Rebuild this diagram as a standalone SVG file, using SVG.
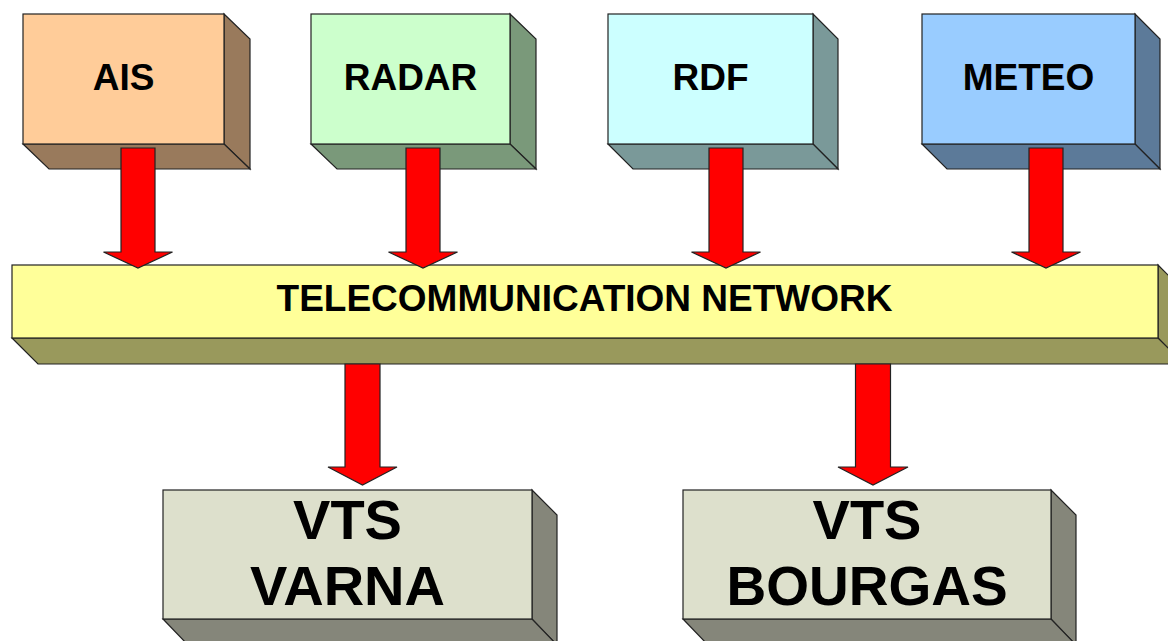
<svg xmlns="http://www.w3.org/2000/svg" width="1168" height="641" viewBox="0 0 1168 641">
  <style>
    .edge { stroke: #222; stroke-width: 1.2; stroke-linejoin: miter; }
    .lbl { font-family: "Liberation Sans", Arial, sans-serif; font-weight: bold; fill: #000; text-anchor: middle; }
    .arrow { fill: #FF0000; stroke: #222; stroke-width: 1.2; stroke-linejoin: miter; }
  </style>
  <rect width="1168" height="641" fill="#FFFFFF"/>

  <g id="node-ais">
    <polygon class="edge" fill="#997A5C" points="224,14 250,39 250,169 224,144"/>
    <polygon class="edge" fill="#997A5C" points="23,144 224,144 250,169 49,169"/>
    <rect class="edge" fill="#FFCC99" x="23" y="14" width="201" height="130"/>
    <text class="lbl" x="123.5" y="89.5" font-size="37">AIS</text>
  </g>

  <g id="node-radar">
    <polygon class="edge" fill="#7A997A" points="510,14 536,39 536,169 510,144"/>
    <polygon class="edge" fill="#7A997A" points="311,144 510,144 536,169 337,169"/>
    <rect class="edge" fill="#CCFFCC" x="311" y="14" width="199" height="130"/>
    <text class="lbl" x="410.5" y="89.5" font-size="37">RADAR</text>
  </g>

  <g id="node-rdf">
    <polygon class="edge" fill="#7A9999" points="813,14 838,39 838,169 813,144"/>
    <polygon class="edge" fill="#7A9999" points="608,144 813,144 838,169 633,169"/>
    <rect class="edge" fill="#CCFFFF" x="608" y="14" width="205" height="130"/>
    <text class="lbl" x="710.5" y="89.5" font-size="37">RDF</text>
  </g>

  <g id="node-meteo">
    <polygon class="edge" fill="#5C7A99" points="1135,14 1160,39 1160,169 1135,144"/>
    <polygon class="edge" fill="#5C7A99" points="922,144 1135,144 1160,169 947,169"/>
    <rect class="edge" fill="#99CCFF" x="922" y="14" width="213" height="130"/>
    <text class="lbl" x="1028.5" y="89.5" font-size="37">METEO</text>
  </g>

  <g id="node-network">
    <polygon class="edge" fill="#99995C" points="1158,265 1184,291 1184,364 1158,338"/>
    <polygon class="edge" fill="#99995C" points="12,338 1158,338 1184,364 38,364"/>
    <rect class="edge" fill="#FFFF99" x="12" y="265" width="1146" height="73"/>
    <text class="lbl" x="584.5" y="310.5" font-size="37">TELECOMMUNICATION NETWORK</text>
  </g>

  <g id="node-varna">
    <polygon class="edge" fill="#85867A" points="532,490 557,515 557,645 532,619"/>
    <polygon class="edge" fill="#85867A" points="163,619 532,619 557,645 188,645"/>
    <rect class="edge" fill="#DDE0CC" x="163" y="490" width="369" height="129"/>
    <text class="lbl" x="347.5" y="538.5" font-size="56">VTS</text>
    <text class="lbl" x="347.5" y="605" font-size="56">VARNA</text>
  </g>

  <g id="node-bourgas">
    <polygon class="edge" fill="#85867A" points="1051,490 1076,515 1076,645 1051,619"/>
    <polygon class="edge" fill="#85867A" points="683,619 1051,619 1076,645 708,645"/>
    <rect class="edge" fill="#DDE0CC" x="683" y="490" width="368" height="129"/>
    <text class="lbl" x="867" y="538.5" font-size="56">VTS</text>
    <text class="lbl" x="867" y="605" font-size="55">BOURGAS</text>
  </g>

  <g id="connectors">
    <polygon class="arrow" points="121,148 155,148 155,252 172.5,252 138,268 103.5,252 121,252"/>
    <polygon class="arrow" points="406,148 440,148 440,252 457.5,252 423,268 388.5,252 406,252"/>
    <polygon class="arrow" points="709,148 743,148 743,252 760.5,252 726,268 691.5,252 709,252"/>
    <polygon class="arrow" points="1029,148 1063,148 1063,252 1080.5,252 1046,268 1011.5,252 1029,252"/>
    <polygon class="arrow" points="345,364 380,364 380,467 397,467 362.5,485 328,467 345,467"/>
    <polygon class="arrow" points="855.5,364 890.5,364 890.5,467 908,467 873,485 838,467 855.5,467"/>
  </g>
</svg>
